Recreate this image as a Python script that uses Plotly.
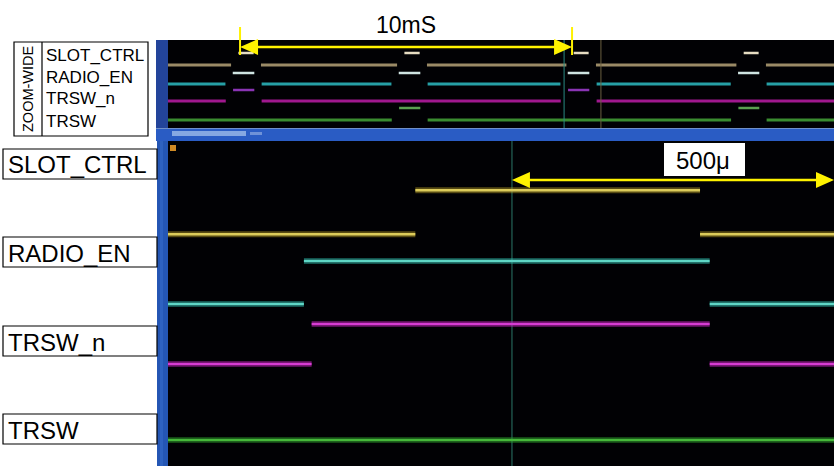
import plotly.graph_objects as go

W, H = 834, 466

# ---------------- data ----------------
signal_names = ["SLOT_CTRL", "RADIO_EN", "TRSW_n", "TRSW"]

# Zoom-wide panel, time in ms
wide_time_range_ms = [-2.17, 17.89]
wide_level_range = [0, 8.8]
wide_slot_ctrl_pulses_ms = [(-0.05, 0.41), (4.95, 5.41), (10.05, 10.50), (15.17, 15.62)]
wide_radio_en_pulses_ms = [(-0.22, 0.43), (4.78, 5.43), (9.87, 10.52), (15.00, 15.64)]
wide_trsw_n_pulses_ms = [(-0.21, 0.43), (9.88, 10.52)]
wide_trsw_pulses_ms = [(4.79, 5.43), (15.01, 15.64)]
wide_low_levels = [6.3, 4.4, 2.7, 0.8]
wide_high_levels = [7.5, 5.5, 3.8, 2.0]
wide_span_ms = [0.0, 10.0]
wide_span_label = "10mS"
wide_cursors_ms = [9.76, 10.87]

# Detail panel, time in µs
detail_time_range_us = [-534, 500]
detail_level_range = [0, 7.74]
detail_slot_ctrl_pulses_us = [(-150, 292)]
detail_radio_en_pulses_us = [(-323, 307)]
detail_trsw_n_pulses_us = [(-311, 307)]
detail_trsw_pulses_us = []
detail_low_levels = [5.52, 3.86, 2.43, 0.62]
detail_high_levels = [6.57, 4.88, 3.38, 1.62]
detail_span_us = [0, 500]
detail_span_label = "500μ"
detail_cursor_us = 0

# ---------------- styles ----------------
FONT = "Liberation Sans, Arial, sans-serif"
YEL = "#fff200"
wide_low_colors = ["#9a8a66", "#26a0a6", "#a0188e", "#3a8c30"]
wide_high_colors = ["#e6dcc2", "#cfe4e2", "#8a34b4", "#5aa050"]
wide_strip_marks = ["#8a8a40", "#208a80", "#4a2060", "#30a030"]
detail_glow = ["rgba(190,165,40,0.45)", "rgba(40,180,165,0.45)",
               "rgba(190,30,180,0.45)", "rgba(40,150,40,0.45)"]
detail_core = ["#dccb5a", "#5fd6c6", "#d63cd2", "#46b83a"]
detail_strip_marks = ["#a07a20", "#1e7a6a", "#5a1a4a", "#40a838"]

# pixel layout
PLOT_X0, PLOT_X1 = 168, 834
TOP_Y0, TOP_Y1 = 40, 128
BAND_Y1 = 141
MAIN_Y1 = 466


def px(x):
    return x / W


def py(y):
    return 1 - y / H


def wide_x(t):
    r0, r1 = wide_time_range_ms
    return PLOT_X0 + (t - r0) / (r1 - r0) * (PLOT_X1 - PLOT_X0)


def detail_x(t):
    r0, r1 = detail_time_range_us
    return PLOT_X0 + (t - r0) / (r1 - r0) * (PLOT_X1 - PLOT_X0)


def segments(pulses, t0, t1, low, high, gap=0.0):
    lx, ly, hx, hy = [], [], [], []
    cur = t0
    for a, b in pulses:
        lx += [cur, a - gap, None]
        ly += [low, low, None]
        hx += [a, b, None]
        hy += [high, high, None]
        cur = b + gap
    lx += [cur, t1]
    ly += [low, low]
    return lx, ly, hx, hy


fig = go.Figure()

# ---- zoom-wide panel traces ----
wide_pulses = [wide_slot_ctrl_pulses_ms, wide_radio_en_pulses_ms,
               wide_trsw_n_pulses_ms, wide_trsw_pulses_ms]
for i, name in enumerate(signal_names):
    lx, ly, hx, hy = segments(wide_pulses[i], wide_time_range_ms[0], wide_time_range_ms[1],
                              wide_low_levels[i], wide_high_levels[i], gap=0.22)
    fig.add_trace(go.Scatter(x=lx, y=ly, mode="lines", line=dict(color=wide_low_colors[i], width=3),
                             xaxis="x", yaxis="y", hoverinfo="skip", name=name))
    fig.add_trace(go.Scatter(x=hx, y=hy, mode="lines", line=dict(color=wide_high_colors[i], width=2.5),
                             xaxis="x", yaxis="y", hoverinfo="skip", name=name))
# wide cursors
for t, c in zip(wide_cursors_ms, ["#2a8a84", "#6a6040"]):
    fig.add_trace(go.Scatter(x=[t, t], y=wide_level_range, mode="lines", line=dict(color=c, width=1),
                             xaxis="x", yaxis="y", hoverinfo="skip"))
# wide strip channel markers
wide_px_per_ms = (PLOT_X1 - PLOT_X0) / (wide_time_range_ms[1] - wide_time_range_ms[0])
fig.add_trace(go.Scatter(x=[wide_time_range_ms[0] - 6 / wide_px_per_ms] * 4, y=wide_low_levels,
                         mode="markers", marker=dict(symbol="square", size=6, color=wide_strip_marks),
                         cliponaxis=False, xaxis="x", yaxis="y", hoverinfo="skip"))

# ---- detail panel traces ----
detail_pulses = [detail_slot_ctrl_pulses_us, detail_radio_en_pulses_us,
                 detail_trsw_n_pulses_us, detail_trsw_pulses_us]
# cursor first (under signals)
fig.add_trace(go.Scatter(x=[detail_cursor_us, detail_cursor_us], y=[detail_level_range[0], detail_level_range[1]],
                         mode="lines", line=dict(color="#1d5048", width=1.5),
                         xaxis="x2", yaxis="y2", hoverinfo="skip"))
for i, name in enumerate(signal_names):
    lx, ly, hx, hy = segments(detail_pulses[i], detail_time_range_us[0], detail_time_range_us[1],
                              detail_low_levels[i], detail_high_levels[i], gap=0)
    xs = lx + [None] + hx
    ys = ly + [None] + hy
    fig.add_trace(go.Scatter(x=xs, y=ys, mode="lines", line=dict(color=detail_glow[i], width=6),
                             xaxis="x2", yaxis="y2", hoverinfo="skip", name=name))
    fig.add_trace(go.Scatter(x=xs, y=ys, mode="lines", line=dict(color=detail_core[i], width=2.5),
                             xaxis="x2", yaxis="y2", hoverinfo="skip", name=name))
detail_px_per_us = (PLOT_X1 - PLOT_X0) / (detail_time_range_us[1] - detail_time_range_us[0])
fig.add_trace(go.Scatter(x=[detail_time_range_us[0] - 6 / detail_px_per_us] * 4, y=detail_low_levels,
                         mode="markers", marker=dict(symbol="square", size=6, color=detail_strip_marks),
                         cliponaxis=False, xaxis="x2", yaxis="y2", hoverinfo="skip"))

# ---------------- decorations ----------------
shapes = []
annotations = []


def rect(x0, y0, x1, y1, fill, line=None, lw=0, layer="above"):
    shapes.append(dict(type="rect", xref="paper", yref="paper", x0=px(x0), x1=px(x1), y0=py(y1), y1=py(y0),
                       fillcolor=fill, line=dict(color=line or fill, width=lw), layer=layer))


def hline(x0, x1, y, color, w):
    shapes.append(dict(type="line", xref="paper", yref="paper", x0=px(x0), x1=px(x1), y0=py(y), y1=py(y),
                       line=dict(color=color, width=w), layer="above"))


def vline(x, y0, y1, color, w):
    shapes.append(dict(type="line", xref="paper", yref="paper", x0=px(x), x1=px(x), y0=py(y0), y1=py(y1),
                       line=dict(color=color, width=w), layer="above"))


def tri(tip_x, y, direction, color, length=18, half=8):
    bx = tip_x - direction * length
    pts = [(tip_x, y), (bx, y - half), (bx, y + half)]
    path = "M " + " L ".join(f"{px(a):.5f},{py(b):.5f}" for a, b in pts) + " Z"
    shapes.append(dict(type="path", xref="paper", yref="paper", path=path, fillcolor=color,
                       line=dict(color=color, width=0), layer="above"))


# wide panel left strip and blue band
rect(156, TOP_Y0, PLOT_X0, TOP_Y1, "#23449a")
rect(156, TOP_Y1, W, BAND_Y1, "#2a5cc4")
hline(156, W, TOP_Y1 + 0.5, "#6f8fc8", 1)
rect(172, 131, 246, 136, "#86a8e2")
rect(250, 132, 262, 135, "#6f92d8")
# detail panel left strip
rect(157, BAND_Y1, PLOT_X0, MAIN_Y1, "#2456b4")
rect(160, BAND_Y1, 163, MAIN_Y1, "#2e62c0")
rect(170, 145, 176, 151, "#d08a24")

# 10mS span arrow
ax0, ax1 = wide_x(wide_span_ms[0]), wide_x(wide_span_ms[1])
hline(ax0 + 10, ax1 - 10, 47, YEL, 2.5)
vline(ax0, 27, 55, YEL, 2)
vline(ax1, 27, 55, YEL, 2)
tri(ax0, 47, -1, YEL)
tri(ax1, 47, 1, YEL)
annotations.append(dict(x=px((ax0 + ax1) / 2), y=py(25), xref="paper", yref="paper", text=wide_span_label,
                        showarrow=False, font=dict(family=FONT, size=23, color="#000000"),
                        xanchor="center", yanchor="middle"))

# 500µ span arrow
bx0, bx1 = detail_x(detail_span_us[0]), detail_x(detail_span_us[1])
hline(bx0 + 10, bx1 - 10, 180, YEL, 2.5)
tri(bx0, 180, -1, YEL)
tri(bx1, 180, 1, YEL)
rect(664, 143, 745, 176, "#ffffff")
annotations.append(dict(x=px(674), y=py(160), xref="paper", yref="paper", text=detail_span_label,
                        showarrow=False, font=dict(family=FONT, size=24, color="#000000"),
                        xanchor="left", yanchor="middle"))

# zoom-wide label box
rect(14, 42, 148, 136, "#ffffff", "#000000", 1.2)
vline(42, 42, 136, "#000000", 1.2)
annotations.append(dict(x=px(28), y=py(89), xref="paper", yref="paper", text="ZOOM-WIDE", textangle=-90,
                        showarrow=False, font=dict(family=FONT, size=14.5, color="#000000"),
                        xanchor="center", yanchor="middle"))
for name, yy in zip(signal_names, [55, 77, 99, 121]):
    annotations.append(dict(x=px(44), y=py(yy), xref="paper", yref="paper", text=name,
                            showarrow=False, font=dict(family=FONT, size=17, color="#000000"),
                            xanchor="left", yanchor="middle"))

# detail label boxes
for name, (y0, y1) in zip(signal_names, [(149, 179), (237, 267), (326, 356), (414, 444)]):
    rect(3, y0, 157, y1, "#ffffff", "#000000", 1.2)
    annotations.append(dict(x=px(6), y=py((y0 + y1) / 2 + 1), xref="paper", yref="paper", text=name,
                            showarrow=False, font=dict(family=FONT, size=24, color="#000000"),
                            xanchor="left", yanchor="middle"))

ax_common = dict(visible=False, showgrid=False, zeroline=False, fixedrange=True)
fig.update_layout(
    width=W, height=H,
    margin=dict(l=0, r=0, t=0, b=0, pad=0),
    paper_bgcolor="#ffffff",
    plot_bgcolor="#010104",
    showlegend=False,
    xaxis=dict(domain=[px(PLOT_X0), 1], range=wide_time_range_ms, anchor="y", **ax_common),
    yaxis=dict(domain=[py(TOP_Y1), py(TOP_Y0)], range=wide_level_range, anchor="x", **ax_common),
    xaxis2=dict(domain=[px(PLOT_X0), 1], range=detail_time_range_us, anchor="y2", **ax_common),
    yaxis2=dict(domain=[0, py(BAND_Y1)], range=detail_level_range, anchor="x2", **ax_common),
    shapes=shapes,
    annotations=annotations,
)

fig.write_html("out.html", config={"displayModeBar": False},
               post_script="document.body.style.margin='0';document.body.style.overflow='hidden';")
